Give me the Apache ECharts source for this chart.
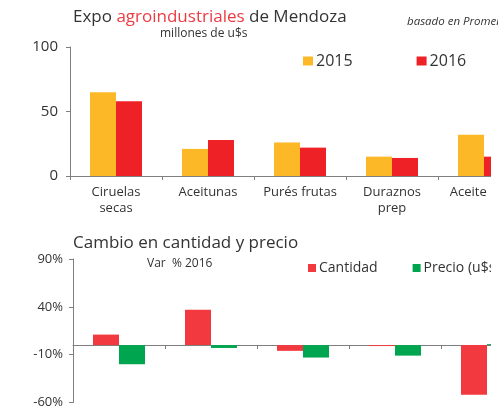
<!DOCTYPE html>
<html>
<head>
<meta charset="utf-8">
<script src="https://cdn.jsdelivr.net/npm/echarts@6/dist/echarts.min.js"></script>
<style>
  html, body { margin: 0; padding: 0; background: #fff; overflow: hidden; }
  body { width: 498px; height: 409px; }
  /* the canvas is wider than the page, so the last category is cut at the edge */
  #chart { width: 560px; height: 409px; }
</style>
</head>
<body>
<div id="chart"></div>
<script>
// Export categories (the last one runs off the right edge)
const categories = ['Ciruelas\nsecas', 'Aceitunas', 'Purés frutas', 'Duraznos\nprep', 'Aceite oliva'];

// Exports, millions of US$
const expo2015 = [65, 21, 26, 15, 32];
const expo2016 = [58, 28, 22, 14, 15];

// Change 2016 vs 2015, percent
const cambioCantidad = [11, 37, -6, -1, -52];
const cambioPrecio = [-20, -3, -13, -11, 1];

const topTicks = [0, 50, 100];
const bottomTicks = [-60, -10, 40, 90];

const FONT = '"Open Sans", "Noto Sans", sans-serif';
const TEXT = '#333333';
const AXIS = '#7f7f7f';
const YELLOW = '#FDB827';
const RED = '#EE2127';
const RED2 = '#F2393F';
const GREEN = '#00A54F';

const chart = echarts.init(document.getElementById('chart'));

chart.setOption({
  backgroundColor: '#ffffff',
  animation: false,
  textStyle: { fontFamily: FONT, color: TEXT },
  title: [
    {
      text: '{a|Expo }{b|agroindustriales}{a| de Mendoza}',
      left: 73, top: 9, padding: 0,
      textStyle: {
        fontWeight: 'normal',
        rich: {
          a: { fontFamily: FONT, fontSize: 17, fontWeight: 'normal', color: TEXT },
          b: { fontFamily: FONT, fontSize: 17, fontWeight: 'normal', color: '#EE3A42' }
        }
      }
    },
    {
      text: 'millones de u$s',
      left: 160, top: 28, padding: 0,
      textStyle: { fontFamily: FONT, fontSize: 12, fontWeight: 'normal', color: TEXT }
    },
    {
      text: 'basado en Promendoza',
      left: 407, top: 16, padding: 0,
      textStyle: { fontFamily: FONT, fontSize: 11.5, fontStyle: 'italic', fontWeight: 'normal', color: TEXT }
    },
    {
      text: 'Cambio en cantidad y precio',
      left: 73, top: 235, padding: 0,
      textStyle: { fontFamily: FONT, fontSize: 17, fontWeight: 'normal', color: TEXT }
    },
    {
      text: 'Var  % 2016',
      left: 147, top: 258, padding: 0,
      textStyle: { fontFamily: FONT, fontSize: 12, fontWeight: 'normal', color: TEXT }
    }
  ],
  legend: [
    {
      data: ['2015', '2016'],
      orient: 'horizontal',
      left: 303, top: 53, padding: 0,
      itemWidth: 10, itemHeight: 9, itemGap: 64,
      icon: 'rect',
      textStyle: { fontFamily: FONT, fontSize: 16, color: TEXT, padding: [0, 0, 0, -2] }
    },
    {
      data: ['Cantidad', 'Precio (u$s)'],
      orient: 'horizontal',
      left: 308, top: 261, padding: 0,
      itemWidth: 8, itemHeight: 8, itemGap: 35,
      icon: 'rect',
      textStyle: { fontFamily: FONT, fontSize: 14, color: TEXT, padding: [0, 0, 0, -2] }
    }
  ],
  grid: [
    { left: 70, top: 47, width: 460, height: 129 },
    { left: 73, top: 259, width: 460, height: 145 }
  ],
  xAxis: [
    {
      type: 'category', gridIndex: 0, data: categories,
      axisLine: { lineStyle: { color: AXIS, width: 1 } },
      axisTick: { show: true, length: 4, lineStyle: { color: AXIS } },
      axisLabel: { fontFamily: FONT, fontSize: 13, color: TEXT, lineHeight: 16, margin: 8, interval: 0 }
    },
    {
      type: 'category', gridIndex: 1, data: categories,
      axisLine: { onZero: true, lineStyle: { color: AXIS, width: 1 } },
      axisTick: { show: true, length: 4, lineStyle: { color: AXIS } },
      axisLabel: { show: false }
    }
  ],
  yAxis: [
    {
      type: 'value', gridIndex: 0,
      min: topTicks[0], max: topTicks[topTicks.length - 1], interval: 50,
      axisLine: { show: true, lineStyle: { color: AXIS } },
      axisTick: { show: true, length: 4, lineStyle: { color: AXIS } },
      splitLine: { show: false },
      axisLabel: { fontFamily: FONT, fontSize: 15, color: TEXT, margin: 12 }
    },
    {
      type: 'value', gridIndex: 1,
      min: bottomTicks[0], max: bottomTicks[bottomTicks.length - 1], interval: 50,
      axisLine: { show: true, onZero: false, lineStyle: { color: AXIS } },
      axisTick: { show: true, length: 4, lineStyle: { color: AXIS } },
      splitLine: { show: false },
      axisLabel: { fontFamily: FONT, fontSize: 13, color: TEXT, margin: 10, formatter: '{value}%' }
    }
  ],
  // white strips along the right edge, where the plot panel ends
  graphic: [
    {
      type: 'rect', left: 491, top: 40, z: 100,
      shape: { width: 80, height: 380 },
      style: { fill: '#ffffff' }
    },
    {
      type: 'rect', left: 488, top: 180, z: 100,
      shape: { width: 80, height: 45 },
      style: { fill: '#ffffff' }
    }
  ],
  series: [
    { name: '2015', type: 'bar', xAxisIndex: 0, yAxisIndex: 0, data: expo2015,
      barWidth: 26, barGap: '0%', itemStyle: { color: YELLOW } },
    { name: '2016', type: 'bar', xAxisIndex: 0, yAxisIndex: 0, data: expo2016,
      barWidth: 26, barGap: '0%', itemStyle: { color: RED } },
    { name: 'Cantidad', type: 'bar', xAxisIndex: 1, yAxisIndex: 1, data: cambioCantidad,
      barWidth: 26, barGap: '0%', itemStyle: { color: RED2 } },
    { name: 'Precio (u$s)', type: 'bar', xAxisIndex: 1, yAxisIndex: 1, data: cambioPrecio,
      barWidth: 26, barGap: '0%', itemStyle: { color: GREEN } }
  ]
});
</script>
</body>
</html>
